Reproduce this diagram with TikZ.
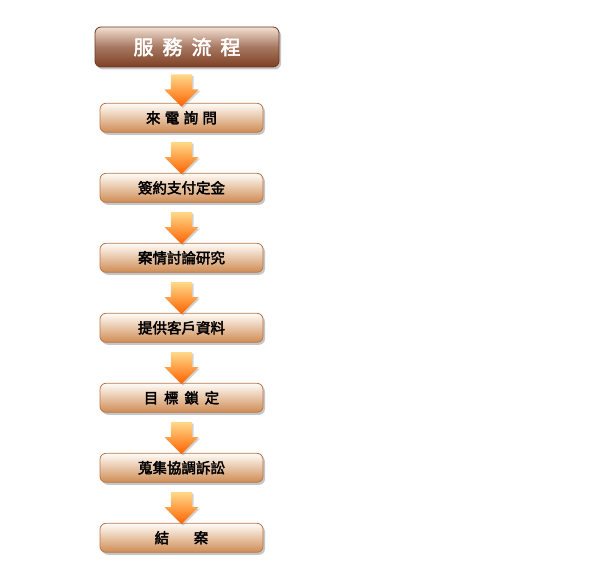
\documentclass[tikz,border=0pt]{standalone}
\usepackage{fontspec}
\newfontfamily\cjkb{Noto Sans CJK TC}[FakeBold=2.5]
\usetikzlibrary{positioning, calc, shapes.arrows, shadows}

\definecolor{boxtop}{HTML}{FFFCF8}
\definecolor{boxbot}{HTML}{CF8C54}
\definecolor{boxline}{HTML}{B8784A}
\definecolor{titletop}{HTML}{F2DFD2}
\definecolor{titlebot}{HTML}{7E4024}
\definecolor{arrtop}{HTML}{FFD98A}
\definecolor{arrbot}{HTML}{FF6200}

\tikzset{
  titlebox/.style={rounded corners=6pt, draw=titlebot!85!black, line width=0.8pt,
    top color=titletop, bottom color=titlebot, middle color=titlebot!65!titletop,
    minimum width=184pt, minimum height=40pt,
    drop shadow={shadow xshift=2pt, shadow yshift=-2.5pt, opacity=0.45},
    text=white, font=\cjkb\fontsize{20}{24}\selectfont},
  stepbox/.style={rounded corners=6pt, draw=boxline, line width=0.8pt,
    top color=boxtop, bottom color=boxbot, minimum width=163pt, minimum height=29pt,
    drop shadow={shadow xshift=2pt, shadow yshift=-2.5pt, opacity=0.45},
    text=black, font=\cjkb\fontsize{14.5}{17}\selectfont},
  downarrow/.style={single arrow, shape border rotate=270, inner sep=10.5pt,
    minimum height=29pt, single arrow head extend=6.5pt, single arrow head indent=0pt,
    top color=arrtop, bottom color=arrbot, draw=none,
    drop shadow={shadow xshift=1.5pt, shadow yshift=-1.5pt, opacity=0.35}}
}

\begin{document}
\begin{tikzpicture}[x=1pt, y=1pt]
    \useasboundingbox (0,0) rectangle (600,-586);
    % Title
    \node[titlebox] (title) at (187,-47) {服\hspace{.45em}務\hspace{.45em}流\hspace{.45em}程};
    % Steps
    \node[stepbox, below=35.5pt of title, xshift=-5.5pt] (s1) {來\hspace{.3em}電\hspace{.3em}詢\hspace{.3em}問};
    \foreach \n/\p/\lab in {s2/s1/{簽約支付定金}, s3/s2/{案情討論研究}, s4/s3/{提供客戶資料},
        s5/s4/{目\hspace{.4em}標\hspace{.4em}鎖\hspace{.4em}定}, s6/s5/{蒐集協調訴訟},
        s7/s6/{結\hspace{1.7em}案}} {
        \node[stepbox, below=40.2pt of \p] (\n) {\lab};
    }
    % Arrows
    \foreach \p/\n in {title/s1, s1/s2, s2/s3, s3/s4, s4/s5, s5/s6, s6/s7} {
        \node[downarrow] (a-\n) at ($(\n.north)!.5!(\n.north|-\p.south)$) {};
    }
\end{tikzpicture}
\end{document}
